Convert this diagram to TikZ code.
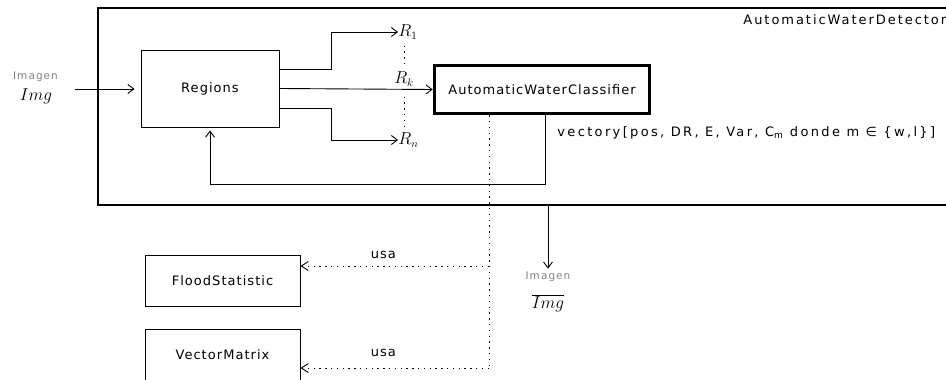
\documentclass[tikz,border=0pt]{standalone}
\usepackage{fontspec}
\setmainfont{DejaVu Sans}[LetterSpace=8]
\usetikzlibrary{arrows.meta}
\begin{document}
\begin{tikzpicture}[x=1pt,y=-1pt,
  line width=0.9pt,
  txt/.style={font=\fontsize{13}{15}\selectfont, inner sep=0pt},
  widetxt/.style={font=\fontsize{13}{15}\selectfont\addfontfeatures{LetterSpace=15}, inner sep=0pt},
  widertxt/.style={font=\fontsize{13}{15}\selectfont\addfontfeatures{LetterSpace=18}, inner sep=0pt},
  box/.style={draw, txt, line width=1pt},
  thickbox/.style={draw, txt, line width=3.5pt},
  arr/.style={-{Straight Barb[length=6pt,width=9pt,line width=0.9pt]}},
  usearr/.style={dash pattern=on 1.4pt off 4.4pt, -{Straight Barb[length=7pt,width=9pt,line width=0.9pt]}},
  lifeline/.style={dash pattern=on 1.4pt off 4.4pt},
  smallgray/.style={font=\fontsize{10.5}{12}\selectfont\addfontfeatures{LetterSpace=10}, text=black!50, inner sep=0pt},
  mathlbl/.style={font=\fontsize{16}{18}\selectfont, inner sep=0pt},
]
\useasboundingbox (0,0) rectangle (946,380);
\clip (0,0) rectangle (946,380);
\fill[white] (0,0) rectangle (946,380);

% outer component
\node[draw, line width=1.2pt, minimum width=870pt, minimum height=197pt, inner sep=0pt] (det) at (533,106.5) {};
\node[widetxt, anchor=west] (detlbl) at (743,20) {AutomaticWaterDetector};

% boxes
\node[box, minimum width=138pt, minimum height=77pt] (regions) at (210,88.5) {Regions};
\node[thickbox, minimum width=215pt, minimum height=48pt] (awc) at (542,89.5) {AutomaticWaterClassifier};
\node[box, minimum width=155pt, minimum height=51pt] (flood) at (222.5,280.5) {FloodStatistic};
\node[box, minimum width=155pt, minimum height=51pt] (vmat) at (222.5,354.5) {VectorMatrix};

% input
\node[smallgray] (imgin) at (35.5,77) {Imagen};
\node[mathlbl] (imginm) at (36,96) {$Img$};
\coordinate (in) at (75,89);
\draw[arr, shorten >=6pt] (in) -- (in -| regions.west);

% region labels
\node[mathlbl, anchor=west] (r1) at (398,32) {$R_1$};
\node[mathlbl] (rk) at (404,79) {$R_k$};
\node[mathlbl, anchor=west] (rn) at (398,140) {$R_n$};

\draw[arr] ([yshift=19.5pt]regions.east) -- ++(52,0) |- (r1.west);
\draw[arr] (regions.east) -- (awc.west);
\draw[arr] ([yshift=-19.5pt]regions.east) -- ++(52,0) |- (rn.west);

\draw[lifeline] ([yshift=-6pt]rk.north |- r1.south) -- ([yshift=3pt]rk.north);
\draw[lifeline] ([yshift=-10pt]rk.south) -- ([yshift=5pt]rk.south |- rn.north);

% feedback
\draw[arr, shorten >=3pt] ([xshift=3pt]awc.south) -- ++(0,69) -| (regions.south);

% vector label
\node[widertxt, anchor=west] (vlbl) at (557,133) {vectory[pos, DR, E, Var, C\textsubscript{m} donde m ∈ \{w,l\}]};

% lifeline and uses
\coordinate (u1) at (489,266);
\coordinate (u2) at (489,368);
\draw[lifeline] ([xshift=-53pt]awc.south) -- (u2);
\draw[usearr] (u1) -- (u1 -| flood.east) node[txt, pos=0.56, above=7pt] (usa1) {usa};
\draw[usearr] (u2) -- (u2 -| vmat.east) node[txt, pos=0.56, above=11pt] (usa2) {usa};

% output
\node[smallgray] (imgout) at (548,277) {Imagen};
\node[mathlbl] (imgoutm) at (548,303) {$\overline{Img}$};
\draw[arr] (imgout.north |- det.south) -- ([yshift=3pt]imgout.north);
\end{tikzpicture}
\end{document}
